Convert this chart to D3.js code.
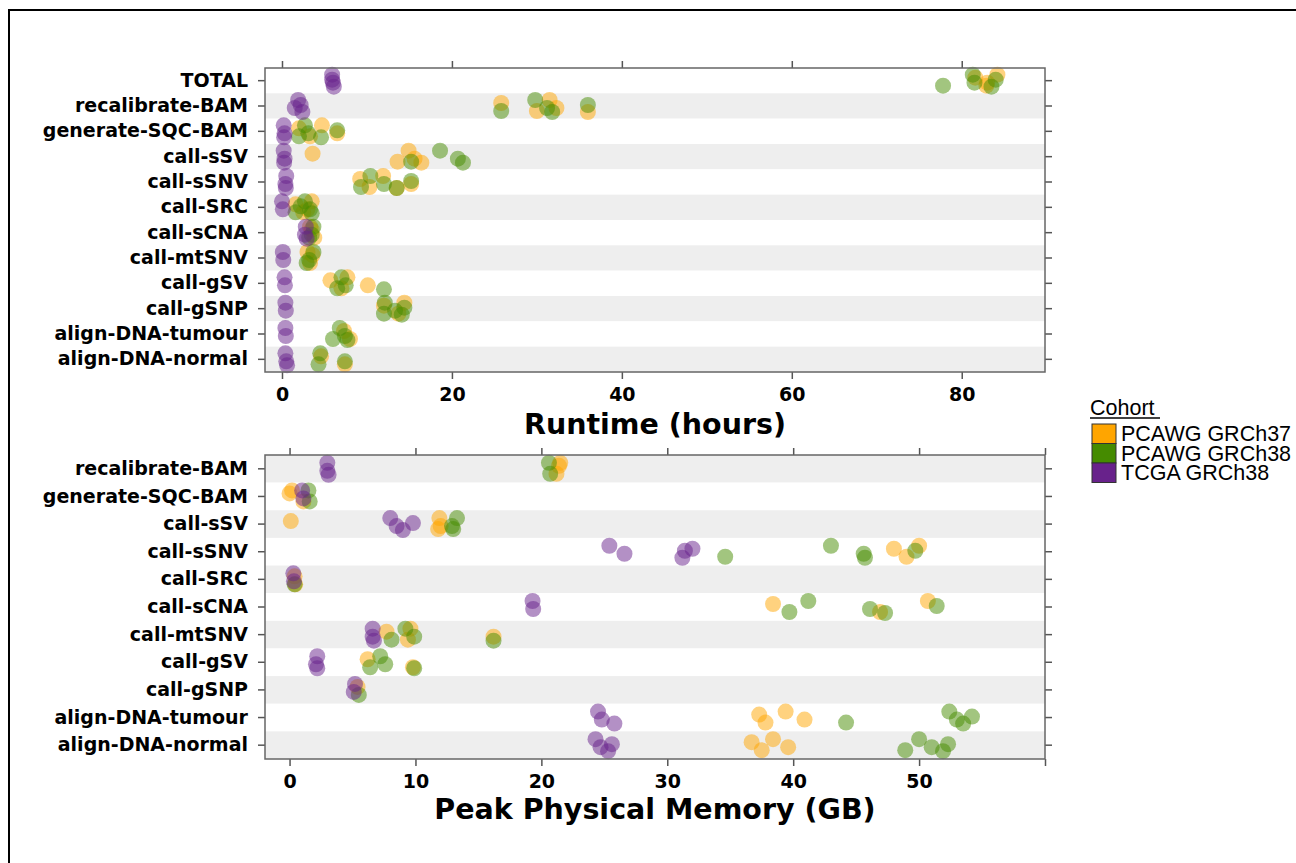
<!DOCTYPE html>
<html>
<head>
<meta charset="utf-8">
<script src="https://cdn.jsdelivr.net/npm/d3@7"></script>
<style>
  body { margin: 0; background: #ffffff; }
  .tickText { font-family: "DejaVu Sans", Verdana, sans-serif; font-weight: bold; font-size: 19px; fill: #000; }
  .axisTitle { font-family: "DejaVu Sans", Verdana, sans-serif; font-weight: bold; font-size: 28.5px; fill: #000; }
  .legendText { font-family: "Liberation Sans", Arial, sans-serif; font-size: 21.5px; fill: #000; }
</style>
</head>
<body>
<div id="chart"></div>
<script>
//svg size
let svgWidth = 1296;
let svgHeight = 863;

//plot box, shared by both panels
let plotLeft = 265;
let plotWidth = 780;

/********************************************/
//data
let runtimeCategories = ["TOTAL", "recalibrate-BAM", "generate-SQC-BAM", "call-sSV", "call-sSNV",
  "call-SRC", "call-sCNA", "call-mtSNV", "call-gSV", "call-gSNP", "align-DNA-tumour", "align-DNA-normal"];

//runtime in hours, one list per category
let runtimeGRCh37 = [
  [81.6, 82.9, 84.2, 83.0],
  [25.8, 30.0, 31.5, 32.3, 36.0],
  [2.0, 3.3, 4.7, 6.5],
  [3.6, 13.6, 14.9, 15.6, 16.4],
  [9.2, 10.3, 11.9, 15.2, 13.5],
  [1.6, 2.5, 3.5, 3.0],
  [3.5, 3.8, 3.3],
  [3.6, 3.3, 3.0],
  [5.7, 7.0, 7.7, 10.1],
  [12.0, 13.7, 14.4],
  [7.3, 8.0],
  [4.6, 7.4]
];
let runtimeGRCh38 = [
  [77.8, 81.3, 81.5, 83.5, 84.0],
  [25.8, 29.8, 31.2, 31.8, 36.0],
  [2.0, 2.7, 3.1, 4.6, 6.5],
  [15.2, 18.6, 20.7, 21.3],
  [9.3, 10.4, 12.0, 13.5, 15.2],
  [1.6, 2.7, 3.3, 3.5, 2.2],
  [3.2, 3.7, 3.5],
  [2.9, 3.7, 3.2],
  [6.5, 7.0, 7.5, 12.0],
  [12.0, 12.1, 13.3, 14.1, 14.4],
  [6.0, 6.8, 7.4, 7.7],
  [4.3, 4.5, 7.4]
];
let runtimeTCGA = [
  [5.9, 6.0, 6.1, 5.9],
  [1.9, 1.5, 2.4, 2.2],
  [0.2, 0.3, 0.25],
  [0.2, 0.3, 0.25],
  [0.5, 0.4, 0.45],
  [0.0, 0.1],
  [2.8, 2.7, 2.9],
  [0.1, 0.15],
  [0.3, 0.35],
  [0.4, 0.45],
  [0.4, 0.45],
  [0.4, 0.5, 0.6]
];

let memoryCategories = ["recalibrate-BAM", "generate-SQC-BAM", "call-sSV", "call-sSNV", "call-SRC",
  "call-sCNA", "call-mtSNV", "call-gSV", "call-gSNP", "align-DNA-tumour", "align-DNA-normal"];

//peak memory in GB, one list per category
let memoryGRCh37 = [
  [21.4, 21.2, 21.5],
  [0.0, 1.1, 0.2],
  [0.1, 11.8, 11.9, 12.0],
  [48.0, 49.0, 50.0],
  [0.4, 0.45],
  [38.4, 46.9, 50.7],
  [7.7, 9.4, 9.6, 16.2],
  [6.2, 9.8],
  [5.4],
  [37.3, 37.8, 39.4, 40.9],
  [36.7, 37.5, 38.4, 39.6]
];
let memoryGRCh38 = [
  [20.7, 20.6],
  [1.6, 1.5],
  [13.0, 13.3, 12.9],
  [34.6, 43.0, 45.6, 45.7, 49.7],
  [0.4],
  [39.7, 41.2, 46.1, 47.3, 51.4],
  [8.1, 9.2, 9.9, 16.2],
  [6.4, 7.2, 7.6, 9.9],
  [5.5],
  [44.2, 52.4, 53.0, 53.5, 54.2],
  [48.9, 50.0, 51.0, 51.9, 52.3]
];
let memoryTCGA = [
  [3.0, 3.0, 3.1],
  [1.0, 1.1],
  [8.0, 8.5, 9.0, 9.8],
  [25.4, 26.6, 31.2, 31.4, 32.0],
  [0.3, 0.35],
  [19.3, 19.35],
  [6.6, 6.6, 6.7],
  [2.2, 2.1, 2.2],
  [5.2, 5.1],
  [24.5, 24.8, 25.8],
  [24.3, 24.7, 25.3, 25.6]
];

let runtimeTicks = [0, 20, 40, 60, 80];
let memoryTicks = [0, 10, 20, 30, 40, 50, 60];
let memoryTickLabels = ["0", "10", "20", "30", "40", "50", ""];

let cohortNames = ["PCAWG GRCh37", "PCAWG GRCh38", "TCGA GRCh38"];
let cohortColors = ["#FFA500", "#458B00", "#68228B"];

//small vertical spread so stacked points stay visible
let jitter = [-3, 5, -6, 2, 6, -1];

/********************************************/
let svg = d3
  .select("#chart")
  .append("svg")
  .attr("width", svgWidth)
  .attr("height", svgHeight);

//outer frame
svg.append("rect")
  .attr("x", 9)
  .attr("y", 10)
  .attr("width", svgWidth + 20)
  .attr("height", svgHeight + 20)
  .attr("fill", "none")
  .attr("stroke", "#000")
  .attr("stroke-width", 2);

drawPanel({
  top: 68,
  height: 304,
  categories: runtimeCategories,
  series: [runtimeGRCh37, runtimeGRCh38, runtimeTCGA],
  domain: [-2, 89.8],
  ticks: runtimeTicks,
  tickLabels: runtimeTicks.map(String),
  title: "Runtime (hours)",
  titleY: 434
});

drawPanel({
  top: 455,
  height: 304,
  categories: memoryCategories,
  series: [memoryGRCh37, memoryGRCh38, memoryTCGA],
  domain: [-1.95, 60],
  ticks: memoryTicks,
  tickLabels: memoryTickLabels,
  title: "Peak Physical Memory (GB)",
  titleY: 819
});

createLegend();

/********************************************/
//one dot plot panel with banded rows
function drawPanel(cfg) {
  let g = svg.append("g")
    .attr("transform", `translate(${plotLeft}, ${cfg.top})`);

  let xScale = d3.scaleLinear().domain(cfg.domain).range([0, plotWidth]);
  let yScale = d3.scaleBand().domain(cfg.categories).range([0, cfg.height]);
  let n = cfg.categories.length;

  //alternating row bands, bottom row is grey
  g.selectAll(".band")
    .data(cfg.categories)
    .enter()
    .append("rect")
    .attr("class", "band")
    .attr("x", 0)
    .attr("y", (d) => yScale(d))
    .attr("width", plotWidth)
    .attr("height", yScale.bandwidth())
    .attr("fill", (d, i) => ((n - 1 - i) % 2 === 0 ? "#eeeeee" : "#ffffff"));

  //points per cohort
  cfg.series.forEach(function (series, c) {
    let pts = [];
    series.forEach(function (vals, i) {
      vals.forEach(function (v, j) {
        pts.push({ cat: cfg.categories[i], value: v, j: j + c });
      });
    });
    g.selectAll(null)
      .data(pts)
      .enter()
      .append("circle")
      .attr("cx", (d) => xScale(d.value))
      .attr("cy", (d) => yScale(d.cat) + yScale.bandwidth() / 2 + jitter[d.j % jitter.length])
      .attr("r", 8)
      .attr("fill", cohortColors[c])
      .attr("fill-opacity", 0.5);
  });

  //axes on all four sides
  let bottom = g.append("g")
    .attr("transform", `translate(0, ${cfg.height})`)
    .call(d3.axisBottom(xScale).tickValues(cfg.ticks).tickSize(7).tickPadding(9)
      .tickFormat((d, i) => cfg.tickLabels[i]));
  let top = g.append("g")
    .call(d3.axisTop(xScale).tickValues(cfg.ticks).tickSize(7).tickFormat(""));
  let left = g.append("g")
    .call(d3.axisLeft(yScale).tickSize(7).tickPadding(10));
  let right = g.append("g")
    .attr("transform", `translate(${plotWidth}, 0)`)
    .call(d3.axisRight(yScale).tickSize(7).tickFormat(""));

  [bottom, top, left, right].forEach(function (ax) {
    ax.select(".domain").remove();
    ax.selectAll(".tick line").attr("stroke", "#555").attr("stroke-width", 1.5);
    ax.selectAll("text").attr("class", "tickText").attr("font-size", null).attr("font-family", null).attr("fill", null);
  });

  //plot frame
  g.append("rect")
    .attr("x", 0)
    .attr("y", 0)
    .attr("width", plotWidth)
    .attr("height", cfg.height)
    .attr("fill", "none")
    .attr("stroke", "#666")
    .attr("stroke-width", 1.5);

  svg.append("text")
    .attr("class", "axisTitle")
    .attr("x", plotLeft + plotWidth / 2)
    .attr("y", cfg.titleY)
    .attr("text-anchor", "middle")
    .text(cfg.title);
}

/********************************************/
//cohort legend on the right
function createLegend() {
  let lg = svg.append("g").attr("transform", "translate(1090, 415)");

  lg.append("text")
    .attr("class", "legendText")
    .attr("x", 0)
    .attr("y", 0)
    .text("Cohort");
  lg.append("line")
    .attr("x1", 0)
    .attr("x2", 70)
    .attr("y1", 3)
    .attr("y2", 3)
    .attr("stroke", "#000")
    .attr("stroke-width", 1.3);

  let rows = lg.selectAll(".legendRow")
    .data(cohortNames)
    .enter()
    .append("g")
    .attr("class", "legendRow")
    .attr("transform", (d, i) => `translate(2, ${9 + i * 19.5})`);

  rows.append("rect")
    .attr("width", 24)
    .attr("height", 19.5)
    .attr("fill", (d, i) => cohortColors[i])
    .attr("stroke", "#333")
    .attr("stroke-width", 1);

  rows.append("text")
    .attr("class", "legendText")
    .attr("x", 29)
    .attr("y", 17)
    .text((d) => d);
}
</script>
</body>
</html>
